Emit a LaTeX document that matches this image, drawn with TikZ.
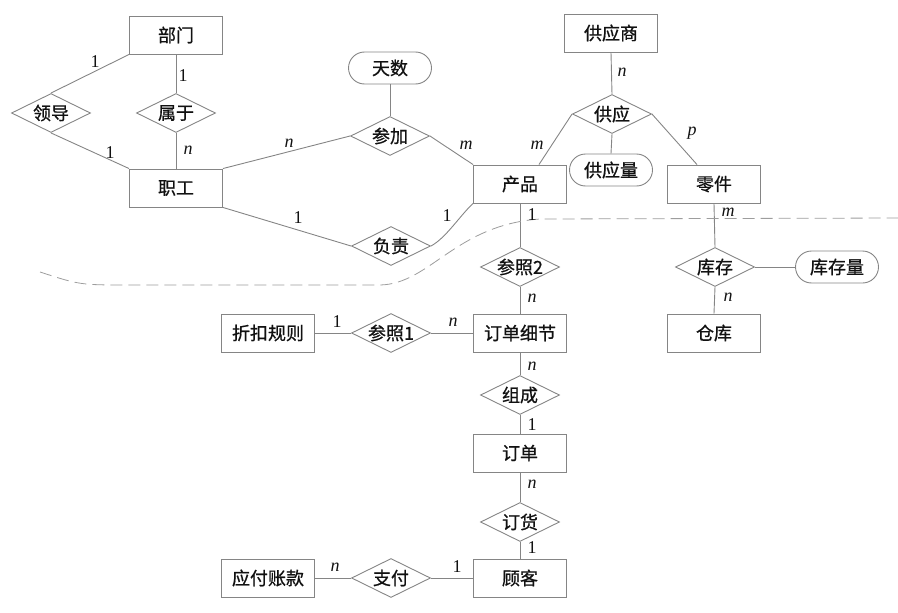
\documentclass[tikz,border=0pt]{standalone}
\usepackage{fontspec}
\newfontfamily\cjk[FakeBold=0.8]{Noto Sans CJK SC}
\newfontfamily\cardfont{Liberation Serif}
\usetikzlibrary{shapes.geometric}
\definecolor{ln}{HTML}{858585}
\definecolor{tx}{HTML}{111111}
\newcommand\dtext[1]{\makebox[0pt]{#1}}
\tikzset{
  ent/.style={draw=ln, line width=0.9pt, minimum width=93pt, minimum height=38pt, inner sep=0pt, text=tx, font=\cjk\fontsize{18}{20}\selectfont},
  rel/.style={diamond, draw=ln, line width=0.9pt, minimum width=79pt, minimum height=39pt, inner sep=0pt, text=tx, font=\cjk\fontsize{18}{20}\selectfont},
  attr/.style={draw=ln, line width=0.9pt, rounded corners=16pt, minimum width=83pt, minimum height=32pt, inner sep=0pt, text=tx, font=\cjk\fontsize{18}{20}\selectfont},
  card/.style={inner sep=0pt, text=tx, font=\cardfont\fontsize{18}{20}\selectfont},
  conn/.style={draw=ln, line width=0.9pt},
}
\begin{document}
\begin{tikzpicture}[x=1pt,y=-1pt]
\useasboundingbox (0,0) rectangle (898,613);
% entities
\node[ent] (bumen) at (176,35) {部门};
\node[ent] (zhigong) at (176,188) {职工};
\node[ent] (chanpin) at (520,184) {产品};
\node[ent] (gys) at (611,33) {供应商};
\node[ent] (lingjian) at (714,184) {零件};
\node[ent] (cangku) at (714,333) {仓库};
\node[ent] (ddxj) at (520,333) {订单细节};
\node[ent] (zhekou) at (268,333) {折扣规则};
\node[ent] (dingdan) at (520,453) {订单};
\node[ent] (guke) at (520,578) {顾客};
\node[ent] (yingfu) at (268,578) {应付账款};
% relationships
\node[rel] (lingdao) at (51,113) {\dtext{领导}};
\node[rel] (shuyu) at (176,113) {\dtext{属于}};
\node[rel] (canjia) at (390,136) {\dtext{参加}};
\node[rel] (fuze) at (391,246) {\dtext{负责}};
\node[rel] (gongying) at (612,114) {\dtext{供应}};
\node[rel] (kucun) at (715,267) {\dtext{库存}};
\node[rel] (cz2) at (520,267) {\dtext{参照2}};
\node[rel] (cz1) at (391,333) {\dtext{参照1}};
\node[rel] (zucheng) at (520,395) {\dtext{组成}};
\node[rel] (dinghuo) at (520,522) {\dtext{订货}};
\node[rel] (zhifu) at (391,578) {\dtext{支付}};
% attributes
\node[attr] (tianshu) at (390,68) {天数};
\node[attr] (gyl) at (611,170) {供应量};
\node[attr] (kcl) at (837,267) {库存量};
% connectors
\draw[conn] (bumen.south west) -- (lingdao.north);
\draw[conn] (lingdao.south) -- (zhigong.north west);
\draw[conn] (bumen.south) -- (shuyu.north);
\draw[conn] (shuyu.south) -- (zhigong.north);
\draw[conn] (zhigong.north east) -- (canjia.west);
\draw[conn] (zhigong.south east) -- (fuze.west);
\draw[conn] (tianshu.south) -- (canjia.north);
\draw[conn] (canjia.east) -- (chanpin.north west);
\draw[conn] (fuze.east) .. controls +(15,-8) and +(-13,12) .. (chanpin.south west);
\draw[conn] (gys.south) -- (gongying.north);
\draw[conn] (gongying.west) -- ([xshift=19pt]chanpin.north);
\draw[conn] (gongying.east) -- ([xshift=-17pt]lingjian.north);
\draw[conn] (gongying.south) -- (gyl.north);
\draw[conn] (lingjian.south) -- (kucun.north);
\draw[conn] (kucun.south) -- (cangku.north);
\draw[conn] (kucun.east) -- (kcl.west);
\draw[conn] (chanpin.south) -- (cz2.north);
\draw[conn] (cz2.south) -- (ddxj.north);
\draw[conn] (zhekou.east) -- (cz1.west);
\draw[conn] (cz1.east) -- (ddxj.west);
\draw[conn] (ddxj.south) -- (zucheng.north);
\draw[conn] (zucheng.south) -- (dingdan.north);
\draw[conn] (dingdan.south) -- (dinghuo.north);
\draw[conn] (dinghuo.south) -- (guke.north);
\draw[conn] (yingfu.east) -- (zhifu.west);
\draw[conn] (zhifu.east) -- (guke.west);
% dashed boundary
\coordinate (d0) at (40,272);
\coordinate (d1) at (130,285);
\coordinate (d2) at (380,285);
\coordinate (d3) at (540,219);
\coordinate (d4) at (898,218);
\draw[draw=ln!80, line width=0.8pt, dash pattern=on 12pt off 6pt]
  (d0) .. controls (80,285) .. (d1) -- (d2) .. controls (430,284) and (455,225) .. (d3) -- (d4);
% cardinalities
\node[card] (c1) at (95,62) {1};
\node[card] (c2) at (110,153) {1};
\node[card] (c3) at (183,76) {1};
\node[card] (c4) at (188,150) {\itshape n};
\node[card] (c5) at (289,143) {\itshape n};
\node[card] (c6) at (466,145) {\itshape m};
\node[card] (c7) at (298,218) {1};
\node[card] (c8) at (447,216) {1};
\node[card] (c9) at (622,72) {\itshape n};
\node[card] (c10) at (537,145) {\itshape m};
\node[card] (c11) at (692,133) {\itshape p};
\node[card] (c12) at (728,212) {\itshape m};
\node[card] (c13) at (728,297) {\itshape n};
\node[card] (c14) at (532,215) {1};
\node[card] (c15) at (532,298) {\itshape n};
\node[card] (c16) at (337,322) {1};
\node[card] (c17) at (453,322) {\itshape n};
\node[card] (c18) at (532,366) {\itshape n};
\node[card] (c19) at (532,425) {1};
\node[card] (c20) at (532,484) {\itshape n};
\node[card] (c21) at (532,548) {1};
\node[card] (c22) at (335,567) {\itshape n};
\node[card] (c23) at (457,567) {1};
\end{tikzpicture}
\end{document}
